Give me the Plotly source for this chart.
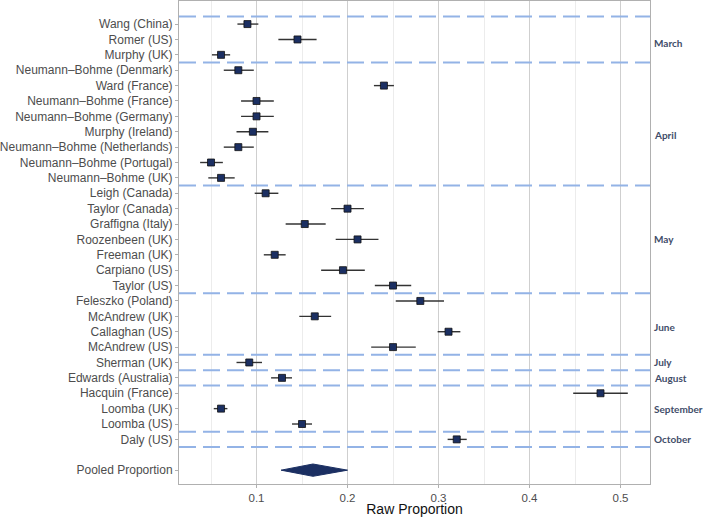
import plotly.graph_objects as go

# ---- data ----
studies = [
    "Wang (China)", "Romer (US)", "Murphy (UK)",
    "Neumann–Bohme (Denmark)", "Ward (France)", "Neumann–Bohme (France)",
    "Neumann–Bohme (Germany)", "Murphy (Ireland)", "Neumann–Bohme (Netherlands)",
    "Neumann–Bohme (Portugal)", "Neumann–Bohme (UK)",
    "Leigh (Canada)", "Taylor (Canada)", "Graffigna (Italy)", "Roozenbeen (UK)",
    "Freeman (UK)", "Carpiano (US)", "Taylor (US)",
    "Feleszko (Poland)", "McAndrew (UK)", "Callaghan (US)", "McAndrew (US)",
    "Sherman (UK)",
    "Edwards (Australia)",
    "Hacquin (France)", "Loomba (UK)", "Loomba (US)",
    "Daly (US)",
]
proportion = [0.090, 0.145, 0.061,
              0.080, 0.240, 0.100, 0.100, 0.096, 0.080, 0.050, 0.061,
              0.110, 0.200, 0.153, 0.211, 0.120, 0.195, 0.250,
              0.280, 0.164, 0.311, 0.250,
              0.092,
              0.128,
              0.478, 0.061, 0.150,
              0.320]
ci_low = [0.079, 0.124, 0.051,
          0.064, 0.229, 0.083, 0.083, 0.078, 0.064, 0.038, 0.047,
          0.098, 0.182, 0.132, 0.187, 0.108, 0.171, 0.230,
          0.253, 0.147, 0.299, 0.226,
          0.078,
          0.116,
          0.448, 0.053, 0.139,
          0.310]
ci_high = [0.102, 0.166, 0.071,
           0.097, 0.251, 0.119, 0.119, 0.113, 0.097, 0.063, 0.076,
           0.124, 0.218, 0.176, 0.234, 0.132, 0.219, 0.270,
           0.306, 0.182, 0.324, 0.275,
           0.106,
           0.139,
           0.508, 0.068, 0.161,
           0.331]
months = ["March", "April", "May", "June", "July", "August", "September", "October"]
month_counts = [3, 8, 7, 4, 1, 1, 3, 1]
pooled_label = "Pooled Proportion"
pooled_est = 0.162
pooled_low = 0.127
pooled_high = 0.200

# ---- layout helpers ----
rows = list(range(1, len(studies) + 1))
pooled_row = len(studies) + 2

NAVY = "#1b2f62"
DASH = "#93b3e6"

fig = go.Figure()

fig.add_trace(go.Scatter(
    x=proportion, y=rows, mode="markers",
    marker=dict(symbol="square", size=7, color=NAVY, line=dict(color="#111111", width=0.8)),
    error_x=dict(type="data", symmetric=False,
                 array=[h - p for h, p in zip(ci_high, proportion)],
                 arrayminus=[p - l for l, p in zip(ci_low, proportion)],
                 color="#333333", thickness=1.4, width=0),
    showlegend=False, hoverinfo="skip",
))

h = 0.4
fig.add_trace(go.Scatter(
    x=[pooled_low, pooled_est, pooled_high, pooled_est, pooled_low],
    y=[pooled_row, pooled_row - h, pooled_row, pooled_row + h, pooled_row],
    mode="lines", fill="toself", fillcolor=NAVY, line=dict(color=NAVY, width=1),
    showlegend=False, hoverinfo="skip",
))

# group separators and month labels
label_adjust = {"March": 0.2, "April": 0.7, "May": 0.0, "June": 0.2}
start = 0.5
for m, c in zip(months, month_counts):
    end = start + c
    fig.add_shape(type="line", xref="paper", yref="y", x0=0, x1=1, y0=start, y1=start,
                  line=dict(color=DASH, width=2, dash="17px,7px"), layer="above")
    mid = (start + end) / 2 + label_adjust.get(m, 0.0)
    fig.add_annotation(xref="paper", yref="y", x=1, y=mid, xshift=2, xanchor="left",
                       text="<b>" + m + "</b>", showarrow=False,
                       font=dict(family="Lato, Liberation Sans", size=10, color="#3f4d69"))
    start = end
fig.add_shape(type="line", xref="paper", yref="y", x0=0, x1=1, y0=start, y1=start,
              line=dict(color=DASH, width=2, dash="17px,7px"), layer="above")

fig.update_layout(
    width=704, height=517,
    margin=dict(l=179, r=54, t=1, b=33, autoexpand=False),
    paper_bgcolor="white", plot_bgcolor="white",
    font=dict(family="Liberation Sans, Arial", color="#4d4d4d"),
    xaxis=dict(range=[0.0148, 0.5324], tickvals=[0.1, 0.2, 0.3, 0.4, 0.5],
               ticktext=["0.1", "0.2", "0.3", "0.4", "0.5"],
               showgrid=True, gridcolor="#cfcfcf", gridwidth=1,
               minor=dict(tickvals=[0.05, 0.15, 0.25, 0.35, 0.45], showgrid=True,
                          gridcolor="#ececec", gridwidth=1),
               showline=True, linecolor="#b0b0b0", linewidth=1, mirror=True,
               ticks="outside", ticklen=3, tickcolor="#b0b0b0",
               tickfont=dict(size=11.5, color="#4d4d4d"),
               title=dict(text="Raw Proportion", font=dict(size=14, color="#111111"), standoff=6),
               zeroline=False, automargin=False),
    yaxis=dict(range=[pooled_row + 0.9, -0.5],
               tickvals=rows + [pooled_row], ticktext=studies + [pooled_label],
               showgrid=False, zeroline=False, automargin=False,
               showline=True, linecolor="#b0b0b0", linewidth=1, mirror=True,
               ticks="outside", ticklen=3, tickcolor="#b0b0b0",
               tickfont=dict(size=12, color="#4d4d4d")),
)

fig.write_html("out.html", config={"displayModeBar": False},
               post_script="document.body.style.margin='0';document.body.style.overflow='hidden';")
